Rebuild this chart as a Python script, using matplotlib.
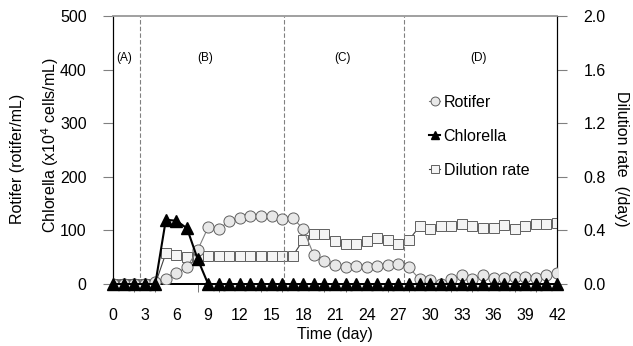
import numpy as np
import matplotlib.pyplot as plt
from matplotlib.ticker import MultipleLocator

plt.rcParams["font.family"] = ["Liberation Sans", "DejaVu Sans"]

# data
days = list(range(0, 43))
rotifer = [0, 0, 0, 0, 4, 9, 20, 32, 63, 106, 102, 118, 124, 126, 127, 127, 121, 124,
           102, 54, 43, 35, 31, 34, 32, 34, 35, 37, 31, 9, 8, 1, 9, 17, 9, 17, 11, 11,
           14, 14, 12, 17, 20]
chlorella = [0, 0, 0, 0, 0, 120, 118, 104, 47] + [0] * 34
dilution = [0, 0, 0, 0, 0, 0.23, 0.22, 0.205, 0.21, 0.21, 0.21, 0.21, 0.21, 0.21, 0.21,
            0.21, 0.21, 0.21, 0.33, 0.37, 0.37, 0.32, 0.30, 0.30, 0.32, 0.34, 0.33, 0.30,
            0.33, 0.43, 0.41, 0.43, 0.43, 0.445, 0.43, 0.42, 0.415, 0.44, 0.41, 0.43,
            0.445, 0.445, 0.455]
phase_bounds = [2.55, 16.15, 27.55]
phase_labels = ["(A)", "(B)", "(C)", "(D)"]
phase_label_x = [1.1, 8.7, 21.7, 34.6]

fig = plt.figure(figsize=(6.33, 3.46), dpi=100)
ax = fig.add_axes([0.1785, 0.179, 0.7015, 0.775])
ax2 = ax.twinx()

# phase separators
for xb in phase_bounds:
    ax.axvline(xb, color="#808080", linestyle=(0, (4, 2)), linewidth=0.8, zorder=1)
for lab, xl in zip(phase_labels, phase_label_x):
    ax.text(xl, 422, lab, ha="center", va="center", fontsize=8.5)

l1, = ax.plot(days, rotifer, color="#808080", linewidth=0.8, marker="o", markersize=8,
              markerfacecolor="#e8e8e8", markeredgecolor="#606060", markeredgewidth=0.7,
              label="Rotifer", zorder=3)
l2, = ax.plot(days, chlorella, color="black", linewidth=1.5, marker="^", markersize=8,
              markerfacecolor="black", markeredgecolor="black", label="Chlorella",
              zorder=4, clip_on=False)
l3, = ax2.plot(days, dilution, color="#404040", linewidth=0.8, marker="s", markersize=7.5,
               markerfacecolor="#f4f4f4", markeredgecolor="#606060", markeredgewidth=0.7,
               label="Dilution rate", zorder=3)

ax.set_xlim(0, 42)
ax.set_ylim(0, 500)
ax2.set_ylim(0, 2.0)

ax.xaxis.set_major_locator(MultipleLocator(3))
ax.xaxis.set_minor_locator(MultipleLocator(2))
ax.tick_params(axis="x", which="major", length=0, labelsize=11.5, pad=17)
ax.tick_params(axis="x", which="minor", length=6, color="#606060", direction="out")
ax.yaxis.set_major_locator(MultipleLocator(100))
ax.tick_params(axis="y", length=7, color="#808080", labelsize=11.5, pad=12)
ax2.yaxis.set_major_locator(MultipleLocator(0.4))
ax2.yaxis.set_major_formatter(plt.FuncFormatter(lambda v, p: f"{v:.1f}"))
ax2.tick_params(axis="y", length=7, color="#808080", labelsize=11.5, pad=12)

for a in (ax, ax2):
    a.spines["top"].set_color("#a0a0a0")
    a.spines["top"].set_linewidth(1.2)
    a.spines["left"].set_color("black")
    a.spines["right"].set_color("black")
    a.spines["bottom"].set_color("black")
    a.spines["bottom"].set_linewidth(1.3)
ax.set_zorder(ax2.get_zorder() + 1)
ax.patch.set_visible(False)

ax.set_xlabel("Time (day)", fontsize=11.5, labelpad=3)
fig.text(0.027, 0.54, "Rotifer (rotifer/mL)", rotation=90, ha="center", va="center",
         fontsize=11.5)
fig.text(0.079, 0.58, "Chlorella (x10$^4$ cells/mL)", rotation=90, ha="center",
         va="center", fontsize=11.5)
fig.text(0.982, 0.54, "Dilution rate  (/day)", rotation=-90, ha="center", va="center",
         fontsize=11.5)

ax.legend([l1, l2, l3], ["Rotifer", "Chlorella", "Dilution rate"], loc="upper left",
          bbox_to_anchor=(0.68, 0.76), frameon=False, fontsize=11.5, handlelength=0.7,
          handletextpad=0.2, labelspacing=1.2, markerscale=0.8)

fig.savefig("out.png", dpi=100)
